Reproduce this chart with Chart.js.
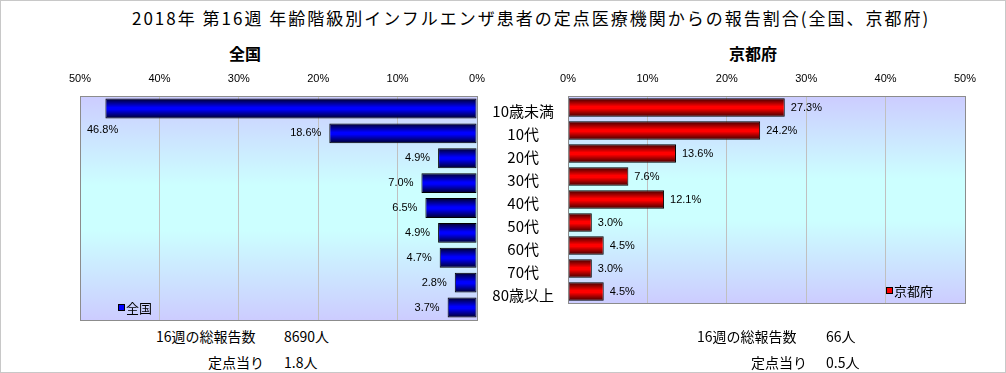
<!DOCTYPE html>
<html>
<head>
<meta charset="utf-8">
<script src="https://cdn.jsdelivr.net/npm/chart.js@4.4.0/dist/chart.umd.min.js"></script>
<style>
body { margin: 0; background: #fff; font-family: "Noto Sans CJK JP", sans-serif; }
#wrap { position: relative; width: 1006px; height: 373px; border: 1px solid #c8c8c8; box-sizing: border-box; overflow: hidden; }
.t { position: absolute; white-space: nowrap; color: #000; line-height: 1; }
canvas { position: absolute; }
</style>
</head>
<body>
<div id="wrap">
  <div class="t" style="left:131px;top:8px;font-size:17px;letter-spacing:2px">2018年 第16週 年齢階級別インフルエンザ患者の定点医療機関からの報告割合(全国、京都府)</div>
  <div class="t" style="left:228px;top:44px;font-size:16px;font-weight:bold">全国</div>
  <div class="t" style="left:728px;top:44px;font-size:16px;font-weight:bold">京都府</div>

  <div id="leftBox" style="position:absolute;left:0;top:65px;width:490px;height:260px"><canvas id="chartNational"></canvas></div>
  <div id="rightBox" style="position:absolute;left:476px;top:65px;width:530px;height:260px"><canvas id="chartKyoto"></canvas></div>

  <div class="t" style="left:155px;top:328px;font-size:14px">16週の総報告数</div>
  <div class="t" style="left:283px;top:328px;font-size:14px">8690人</div>
  <div class="t" style="left:207px;top:354px;font-size:14px">定点当り</div>
  <div class="t" style="left:283px;top:354px;font-size:14px">1.8人</div>
  <div class="t" style="left:696px;top:328px;font-size:14px">16週の総報告数</div>
  <div class="t" style="left:825px;top:328px;font-size:14px">66人</div>
  <div class="t" style="left:750px;top:354px;font-size:14px">定点当り</div>
  <div class="t" style="left:825px;top:354px;font-size:14px">0.5人</div>
</div>

<script>
let ageLabels = ["10歳未満", "10代", "20代", "30代", "40代", "50代", "60代", "70代", "80歳以上"];
let dataNational = [46.8, 18.6, 4.9, 7.0, 6.5, 4.9, 4.7, 2.8, 3.7];
let dataKyoto = [27.3, 24.2, 13.6, 7.6, 12.1, 3.0, 4.5, 3.0, 4.5];
let percentTicks = [0, 10, 20, 30, 40, 50];

let fontJP = "'Noto Sans CJK JP', sans-serif";
let fontNum = "'Liberation Sans', Arial, sans-serif";

// plot background gradient + grey frame
const plotFrame = {
    id: "plotFrame",
    beforeDraw(chart) {
        const ctx = chart.ctx;
        const a = chart.chartArea;
        const g = ctx.createLinearGradient(0, a.top, 0, a.bottom);
        g.addColorStop(0, "#ccccff");
        g.addColorStop(0.4, "#ccffff");
        g.addColorStop(0.6, "#ccffff");
        g.addColorStop(1, "#ccccff");
        ctx.save();
        ctx.fillStyle = g;
        ctx.fillRect(a.left, a.top, a.right - a.left, a.bottom - a.top);
        ctx.restore();
    },
    afterDraw(chart) {
        const ctx = chart.ctx;
        const a = chart.chartArea;
        ctx.save();
        ctx.strokeStyle = "#8c8c8c";
        ctx.lineWidth = 1;
        ctx.strokeRect(Math.round(a.left) + 0.5, Math.round(a.top) + 0.5, Math.round(a.right - a.left), Math.round(a.bottom - a.top));
        ctx.restore();
    }
};

// value labels next to the bars
const valueLabels = {
    id: "valueLabels",
    afterDatasetsDraw(chart, args, opts) {
        const ctx = chart.ctx;
        const meta = chart.getDatasetMeta(0);
        const vals = chart.data.datasets[0].data;
        const a = chart.chartArea;
        ctx.save();
        ctx.font = "11px " + fontNum;
        ctx.fillStyle = "#000";
        ctx.textBaseline = "middle";
        meta.data.forEach((bar, i) => {
            const txt = vals[i].toFixed(1) + "%";
            const w = ctx.measureText(txt).width;
            if (opts.side == "left") {
                if (bar.x - 8 - w < a.left) {
                    ctx.textAlign = "left";
                    ctx.fillText(txt, a.left + 7, bar.y + 22);
                } else {
                    ctx.textAlign = "right";
                    ctx.fillText(txt, bar.x - 8, bar.y);
                }
            } else {
                ctx.textAlign = "left";
                ctx.fillText(txt, bar.x + 6, bar.y);
            }
        });
        ctx.restore();
    }
};

// little legend inside the plot
const boxLegend = {
    id: "boxLegend",
    afterDraw(chart, args, opts) {
        const ctx = chart.ctx;
        const y = chart.chartArea.bottom - 13;
        ctx.save();
        ctx.fillStyle = opts.color;
        ctx.strokeStyle = "#000";
        ctx.lineWidth = 1;
        ctx.fillRect(opts.x, y - 3, 7, 7);
        ctx.strokeRect(opts.x + 0.5, y - 3 + 0.5, 6, 6);
        ctx.font = "13px " + fontJP;
        ctx.fillStyle = "#000";
        ctx.textBaseline = "middle";
        ctx.textAlign = "left";
        ctx.fillText(opts.text, opts.x + 8, y + 1);
        ctx.restore();
    }
};

function barShade(dark, bright) {
    return function (context) {
        const chart = context.chart;
        const ys = chart.scales.y;
        if (!chart.chartArea || !ys) {
            return bright;
        }
        const cy = ys.getPixelForValue(context.dataIndex);
        const g = chart.ctx.createLinearGradient(0, cy - 10, 0, cy + 10);
        g.addColorStop(0, dark);
        g.addColorStop(0.45, bright);
        g.addColorStop(0.55, bright);
        g.addColorStop(1, dark);
        return g;
    };
}

function xScale(reversed) {
    return {
        type: "linear",
        position: "top",
        reverse: reversed,
        min: 0,
        max: 50,
        afterBuildTicks: (s) => { s.ticks = percentTicks.map(v => ({ value: v })); },
        afterFit: (s) => { s.height = 30; },
        grid: { color: "#c0c0c0", drawTicks: false },
        border: { display: false },
        ticks: {
            padding: 10,
            color: "#000",
            font: { family: fontNum, size: 11 },
            callback: (v) => v + "%"
        }
    };
}

let chartNational = new Chart(document.getElementById("chartNational"), {
    type: "bar",
    data: {
        labels: ageLabels,
        datasets: [
            {
                label: "全国",
                data: dataNational,
                backgroundColor: barShade("#000028", "#0000ff"),
                borderColor: "#000000",
                borderWidth: 1,
                borderSkipped: false,
                categoryPercentage: 1,
                barPercentage: 0.8
            }
        ]
    },
    options: {
        indexAxis: "y",
        responsive: true,
        maintainAspectRatio: false,
        animation: false,
        layout: { padding: { left: 79, right: 14, top: 0, bottom: 6 } },
        scales: {
            x: xScale(true),
            y: { display: false }
        },
        plugins: {
            legend: { display: false },
            tooltip: { enabled: false },
            valueLabels: { side: "left" },
            boxLegend: { x: 117, text: "全国", color: "#0000ff" }
        }
    },
    plugins: [plotFrame, valueLabels, boxLegend]
});

let chartKyoto = new Chart(document.getElementById("chartKyoto"), {
    type: "bar",
    data: {
        labels: ageLabels,
        datasets: [
            {
                label: "京都府",
                data: dataKyoto,
                backgroundColor: barShade("#280000", "#ff0000"),
                borderColor: "#000000",
                borderWidth: 1,
                borderSkipped: false,
                categoryPercentage: 1,
                barPercentage: 0.8
            }
        ]
    },
    options: {
        indexAxis: "y",
        responsive: true,
        maintainAspectRatio: false,
        animation: false,
        layout: { padding: { left: 0, right: 42, top: 0, bottom: 6 } },
        scales: {
            x: xScale(false),
            y: {
                afterFit: (s) => { s.width = 91; },
                grid: { display: false, drawTicks: false },
                border: { display: false },
                ticks: {
                    crossAlign: "center",
                    padding: 14,
                    labelOffset: 4,
                    color: "#000",
                    font: { family: fontJP, size: 15 }
                }
            }
        },
        plugins: {
            legend: { display: false },
            tooltip: { enabled: false },
            valueLabels: { side: "right" },
            boxLegend: { x: 409, text: "京都府", color: "#ff0000" }
        }
    },
    plugins: [plotFrame, valueLabels, boxLegend]
});
</script>
</body>
</html>
